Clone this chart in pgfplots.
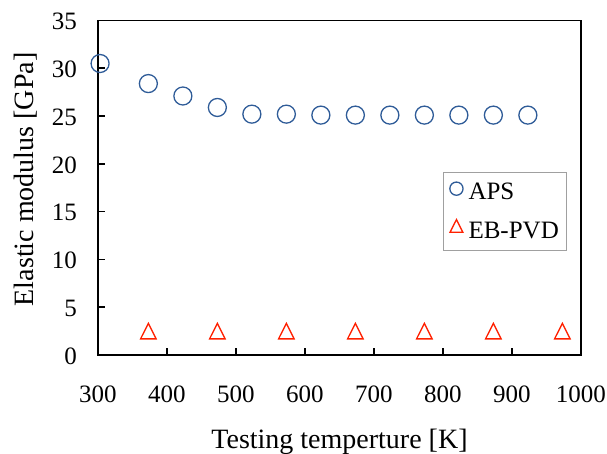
\documentclass[border=0pt]{standalone}
\usepackage{fontspec}
\setmainfont{Liberation Serif}
\usepackage{pgfplots}
\pgfplotsset{compat=1.18}
\definecolor{apsblue}{RGB}{47,92,152}
\definecolor{ebred}{RGB}{255,32,0}
\definecolor{legframe}{RGB}{160,160,160}
\begin{document}
\begin{tikzpicture}
\useasboundingbox (-98pt,-99pt) rectangle (509pt,355pt);
\begin{axis}[
  scale only axis, width=483pt, height=334.5pt,
  xmin=300, xmax=1000, ymin=0, ymax=35,
  xtick={300,400,...,1000}, ytick={0,5,...,35},
  tick pos=left, tick align=inside, major tick length=7pt,
  axis line style={line width=1.7pt},
  every tick/.style={black, line width=1.7pt},
  tick label style={font=\fontsize{25}{30}\selectfont},
  /pgf/number format/assume math mode=true,
  /pgf/number format/1000 sep={},
  xticklabel style={anchor=base, yshift=-48pt},
  yticklabel style={anchor=east, inner sep=0pt, xshift=-21pt, yshift=-1pt},
  xlabel={Testing temperture [K]},
  ylabel={Elastic modulus [GPa]},
  label style={font=\fontsize{28}{33}\selectfont},
  xlabel style={at={(axis description cs:0.5,0)}, anchor=base, yshift=-93pt},
  ylabel style={at={(axis description cs:-0.1335,0.525)}, anchor=base},
  legend style={at={(axis description cs:0.715,0.547)}, anchor=north west,
    draw=legframe, line width=1pt, fill=white,
    font=\fontsize{25}{30}\selectfont,
    inner xsep=6pt, inner ysep=9pt, row sep=17pt,
    nodes={inner sep=1.5pt},
    /tikz/every odd column/.append style={column sep=4pt}},
  legend cell align=left,
  legend image code/.code={\draw[#1] plot coordinates {(0pt,0.34em)};},
]
\addplot[only marks, mark=o, mark size=9pt, apsblue, mark options={line width=1.3pt},
  legend image post style={mark size=6.6pt}]
  coordinates {(303,30.5) (373,28.4) (423,27.1) (473,25.9) (523,25.2) (573,25.2)
  (623,25.1) (673,25.1) (723,25.1) (773,25.1) (823,25.1) (873,25.1) (923,25.1)};
\addlegendentry{APS}
\addplot[only marks, mark=triangle, mark size=9pt, ebred,
  mark options={line width=1.3pt, yshift=-2.6pt, yscale=1.15},
  legend image post style={mark size=7.4pt, yshift=2.2pt}]
  coordinates {(373,2.5) (473,2.5) (573,2.5) (673,2.5) (773,2.5) (873,2.5) (973,2.5)};
\addlegendentry{EB-PVD}
\end{axis}
\end{tikzpicture}
\end{document}
